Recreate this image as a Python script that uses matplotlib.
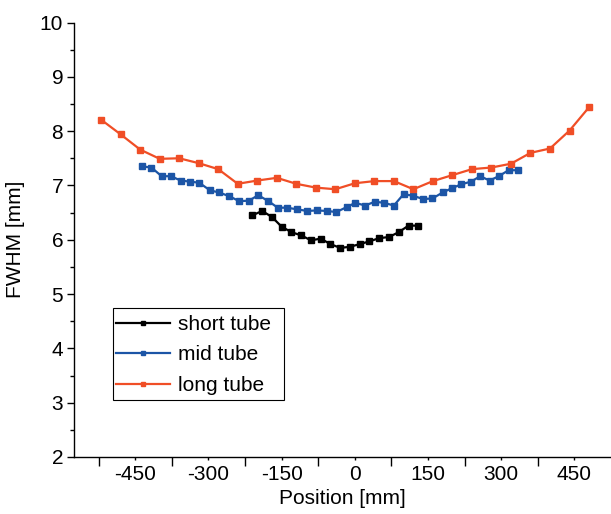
import numpy as np
import matplotlib
matplotlib.use("Agg")
import matplotlib.pyplot as plt
from matplotlib.patches import Rectangle

plt.rcParams['font.family'] = ['Liberation Sans', 'DejaVu Sans']

# Daten
short_x = [-210, -190, -170, -150, -130, -110, -90, -70, -50, -30,
           -10, 10, 30, 50, 70, 90, 110, 130]
short_y = [6.45, 6.53, 6.42, 6.24, 6.14, 6.08, 5.99, 6.02, 5.92, 5.85,
           5.87, 5.92, 5.97, 6.03, 6.05, 6.14, 6.26, 6.26]

mid_x = [-436, -417, -396, -377, -357, -338, -319, -297, -278, -257,
         -237, -217, -198, -177, -158, -139, -118, -98, -78, -57,
         -38, -17, 1, 21, 41, 60, 80, 100, 119, 140,
         159, 180, 199, 218, 238, 257, 276, 295, 315, 334]
mid_y = [7.35, 7.33, 7.17, 7.17, 7.09, 7.07, 7.05, 6.91, 6.87, 6.80,
         6.71, 6.72, 6.82, 6.71, 6.59, 6.59, 6.56, 6.53, 6.54, 6.53,
         6.51, 6.60, 6.68, 6.63, 6.70, 6.68, 6.63, 6.84, 6.81, 6.75,
         6.76, 6.87, 6.95, 7.02, 7.07, 7.17, 7.09, 7.17, 7.28, 7.28]

long_x = [-520, -480, -440, -400, -360, -320, -280, -240, -200, -160,
          -120, -80, -40, 0, 40, 80, 120, 160, 200, 240,
          280, 320, 360, 400, 440, 480]
long_y = [8.21, 7.94, 7.66, 7.49, 7.50, 7.41, 7.30, 7.03, 7.09, 7.14,
          7.03, 6.96, 6.93, 7.04, 7.08, 7.08, 6.93, 7.08, 7.19, 7.30,
          7.33, 7.40, 7.60, 7.68, 8.01, 8.44]

x_ticks = [-450, -300, -150, 0, 150, 300, 450]
x_minor = [-525, -375, -225, -75, 75, 225, 375]

c_short = 'black'
c_mid = '#1c55a6'
c_long = '#f04e26'

W, H = 611, 514
fig = plt.figure(figsize=(W / 100, H / 100), dpi=100)
ax = fig.add_axes([74.3 / W, 57 / H, 1 - 74.3 / W, 434.5 / H])

ax.plot(short_x, short_y, c=c_short, lw=1.6, marker='s', ms=4, label='short tube')
ax.plot(mid_x, mid_y, c=c_mid, lw=1.6, marker='s', ms=4, label='mid tube')
ax.plot(long_x, long_y, c=c_long, lw=1.6, marker='s', ms=4, label='long tube')

ax.set_xlim(-575, 525)
ax.set_ylim(2, 10)
ax.set_xticks(x_ticks)
ax.set_xticks(x_minor, minor=True)
ax.set_xticklabels([str(v) for v in x_ticks])
ax.set_yticks(range(2, 11))
ax.set_yticks(np.arange(2.5, 10, 1.0), minor=True)

ax.spines['top'].set_visible(False)
ax.spines['right'].set_visible(False)
ax.spines['left'].set_linewidth(1.0)
ax.spines['bottom'].set_linewidth(1.0)

ax.tick_params(axis='x', which='major', direction='out', length=2.5, width=1.0,
               labelsize=15, pad=3)
ax.tick_params(axis='x', which='minor', direction='out', length=6.5, width=1.0)
ax.tick_params(axis='y', which='major', direction='out', length=5, width=1.0,
               labelsize=15, pad=3)
ax.tick_params(axis='y', which='minor', direction='out', length=3, width=1.0)

ax.set_xlabel('Position [mm]', fontsize=15, labelpad=4)
ax.set_ylabel('FWHM [mm]', fontsize=15, labelpad=11)

# Legende ohne eigenen Rahmen, Rahmen separat wie im Original
leg = ax.legend(loc='upper left', bbox_to_anchor=(116 / W, 1 - 315 / H),
                bbox_transform=fig.transFigure, borderaxespad=0, fontsize=15,
                frameon=False, handlelength=2.6, labelspacing=0.55, borderpad=0,
                handletextpad=0.4, markerscale=0.8)
fig.patches.append(Rectangle((113 / W, 1 - 400 / H), 171 / W, 92 / H,
                             transform=fig.transFigure, fill=False,
                             edgecolor='black', lw=0.8))

fig.savefig('out.png', dpi=100)
